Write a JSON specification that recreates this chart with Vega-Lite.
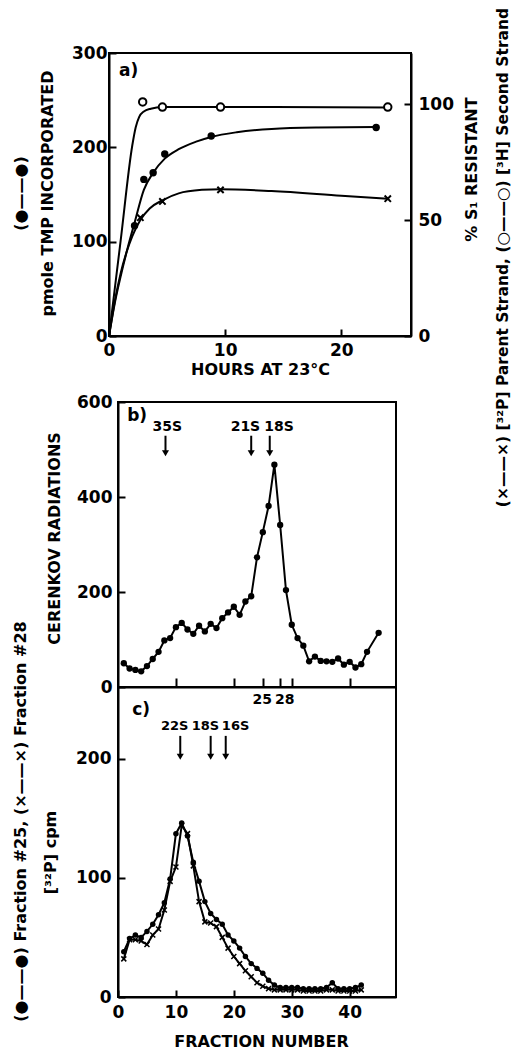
{
  "$schema": "https://vega.github.io/schema/vega-lite/v6.json",
  "background": "white",
  "padding": {"left": 10, "top": 6, "right": 0, "bottom": 0},
  "config": {
    "font": "DejaVu Sans",
    "view": {"stroke": "black", "strokeWidth": 2},
    "axis": {"grid": false, "domainColor": "black", "domainWidth": 2, "tickColor": "black", "tickWidth": 2, "tickSize": -7,
      "labelColor": "black", "labelFont": "DejaVu Sans", "labelFontSize": 17, "labelFontWeight": "bold",
      "titleColor": "black", "titleFont": "DejaVu Sans", "titleFontSize": 16, "titleFontWeight": "bold",
      "labelOverlap": false, "labelFlush": false}
  },
  "datasets": {
    "a_tmp_curve": [{"h":0,"v":0},{"h":0.5,"v":35},{"h":1,"v":63},{"h":1.6,"v":93},{"h":2.2,"v":120},{"h":3,"v":155},{"h":3.8,"v":173},{"h":4.8,"v":188},{"h":6,"v":198},{"h":7.5,"v":206},{"h":8.8,"v":211},{"h":11,"v":216},{"h":14,"v":219.5},{"h":18,"v":221},{"h":23,"v":221.5}],
    "a_tmp_pts": [{"h":2.2,"v":117},{"h":3.0,"v":166},{"h":3.8,"v":173},{"h":4.8,"v":193},{"h":8.8,"v":212},{"h":23,"v":221}],
    "a_open_curve": [{"h":0,"v":0},{"h":1,"v":41},{"h":2,"v":82},{"h":2.3,"v":90},{"h":2.6,"v":94.5},{"h":3,"v":96.8},{"h":3.6,"v":98},{"h":4.6,"v":98.7},{"h":9.6,"v":98.7},{"h":24,"v":98.5}],
    "a_open_pts": [{"h":2.9,"v":100.9},{"h":4.6,"v":98.7},{"h":9.6,"v":98.7},{"h":24,"v":98.7}],
    "a_x_curve": [{"h":0,"v":0},{"h":0.5,"v":15},{"h":1,"v":27},{"h":1.5,"v":36},{"h":2,"v":43},{"h":2.7,"v":50},{"h":3.5,"v":55},{"h":4.6,"v":58.5},{"h":6,"v":61.5},{"h":8,"v":63},{"h":9.6,"v":63.3},{"h":14,"v":62.5},{"h":20,"v":60.5},{"h":24,"v":59.2}],
    "a_x_pts": [{"h":2.7,"v":51},{"h":4.6,"v":58},{"h":9.6,"v":63},{"h":24,"v":59.2}],
    "b": [{"f":1,"v":50},{"f":2,"v":39},{"f":3,"v":36},{"f":4,"v":33},{"f":5,"v":44},{"f":6,"v":59},{"f":7,"v":74},{"f":8,"v":98},{"f":9,"v":103},{"f":10,"v":126},{"f":11,"v":135},{"f":12,"v":121},{"f":13,"v":112},{"f":14,"v":129},{"f":15,"v":117},{"f":16,"v":133},{"f":17,"v":124},{"f":18,"v":145},{"f":19,"v":157},{"f":20,"v":169},{"f":21,"v":152},{"f":22,"v":180},{"f":23,"v":191},{"f":24,"v":273},{"f":25,"v":326},{"f":26,"v":381},{"f":27,"v":468},{"f":28,"v":341},{"f":29,"v":204},{"f":30,"v":131},{"f":31,"v":103},{"f":32,"v":87},{"f":33,"v":54},{"f":34,"v":64},{"f":35,"v":55},{"f":36,"v":54},{"f":37,"v":53},{"f":38,"v":60},{"f":39,"v":47},{"f":40,"v":53},{"f":41,"v":41},{"f":42,"v":48},{"f":43,"v":74},{"f":45,"v":114}],
    "b_ann": [{"lab":"35S","tx":8.5,"ax":8.2},{"lab":"21S","tx":22.0,"ax":23.0},{"lab":"18S","tx":27.8,"ax":26.2}],
    "c": [{"f":1,"v":38},{"f":2,"v":49},{"f":3,"v":52},{"f":4,"v":50},{"f":5,"v":55},{"f":6,"v":61},{"f":7,"v":69},{"f":8,"v":79},{"f":9,"v":99},{"f":10,"v":137},{"f":11,"v":146},{"f":12,"v":135},{"f":13,"v":113},{"f":14,"v":97},{"f":15,"v":80},{"f":16,"v":70},{"f":17,"v":65},{"f":18,"v":61},{"f":19,"v":52},{"f":20,"v":47},{"f":21,"v":41},{"f":22,"v":34},{"f":23,"v":28},{"f":24,"v":24},{"f":25,"v":20},{"f":26,"v":14},{"f":27,"v":10},{"f":28,"v":8},{"f":29,"v":8},{"f":30,"v":8},{"f":31,"v":8},{"f":32,"v":7},{"f":33,"v":7},{"f":34,"v":7},{"f":35,"v":7},{"f":36,"v":8},{"f":37,"v":12},{"f":38,"v":7},{"f":39,"v":7},{"f":40,"v":7},{"f":41,"v":8},{"f":42,"v":10}],
    "c_x": [{"f":1,"v":32},{"f":2,"v":48},{"f":3,"v":48},{"f":4,"v":47},{"f":5,"v":44},{"f":6,"v":52},{"f":7,"v":57},{"f":8,"v":73},{"f":9,"v":97},{"f":10,"v":109},{"f":11,"v":144},{"f":12,"v":137},{"f":13,"v":110},{"f":14,"v":80},{"f":15,"v":63},{"f":16,"v":62},{"f":17,"v":59},{"f":18,"v":50},{"f":19,"v":41},{"f":20,"v":34},{"f":21,"v":28},{"f":22,"v":22},{"f":23,"v":17},{"f":24,"v":12},{"f":25,"v":9},{"f":26,"v":7},{"f":27,"v":6},{"f":28,"v":6},{"f":29,"v":6},{"f":30,"v":6},{"f":31,"v":6},{"f":32,"v":5},{"f":33,"v":5},{"f":34,"v":5},{"f":35,"v":5},{"f":36,"v":6},{"f":37,"v":6},{"f":38,"v":5},{"f":39,"v":5},{"f":40,"v":5},{"f":41,"v":5},{"f":42,"v":6}],
    "c_ann": [{"lab":"22S","tx":9.8,"ax":10.75},{"lab":"18S","tx":15.1,"ax":16.0},{"lab":"16S","tx":20.3,"ax":18.6}]
  },
  "spacing": 66,
  "bounds": "flush",
  "vconcat": [
    {
      "width": 302,
      "height": 283,
      "resolve": {"scale": {"y": "independent"}},
      "layer": [
        {
          "layer": [
            {
              "data": {"name": "a_tmp_curve"},
              "mark": {"type": "line", "interpolate": "monotone", "color": "black", "strokeWidth": 2},
              "encoding": {
                "x": {"field": "h", "type": "quantitative", "scale": {"domain": [0, 26], "nice": false},
                  "axis": {"values": [0, 10, 20], "title": "HOURS AT 23°C", "labelPadding": 13, "titleX": 151, "titleY": 33, "titleAlign": "center", "titleBaseline": "middle"}},
                "y": {"field": "v", "type": "quantitative", "scale": {"domain": [0, 300], "nice": false},
                  "axis": {"values": [0, 100, 200, 300], "labelPadding": 9, "title": ["(●——●)", "pmole TMP INCORPORATED"], "titleAngle": -90, "titleX": -89, "titleY": 140, "titleAlign": "center", "titleBaseline": "middle", "titleLineHeight": 27}}
              }
            },
            {
              "data": {"name": "a_tmp_pts"},
              "mark": {"type": "point", "filled": true, "color": "black", "size": 55, "opacity": 1},
              "encoding": {"x": {"field": "h", "type": "quantitative"}, "y": {"field": "v", "type": "quantitative"}}
            },
            {
              "data": {"values": [{"h": 1.7, "v": 281, "t": "a)"}]},
              "mark": {"type": "text", "fontSize": 17, "fontWeight": "bold", "color": "black", "baseline": "middle"},
              "encoding": {"x": {"field": "h", "type": "quantitative"}, "y": {"field": "v", "type": "quantitative"}, "text": {"field": "t"}}
            }
          ]
        },
        {
          "layer": [
            {
              "data": {"name": "a_open_curve"},
              "mark": {"type": "line", "interpolate": "monotone", "color": "black", "strokeWidth": 2},
              "encoding": {
                "x": {"field": "h", "type": "quantitative"},
                "y": {"field": "v", "type": "quantitative", "scale": {"domain": [0, 122], "nice": false},
                  "axis": {"orient": "right", "values": [0, 50, 100], "labelPadding": 14, "title": "% S₁ RESISTANT", "titleAngle": -90, "titleX": 60, "titleY": 116, "titleAlign": "center", "titleBaseline": "middle"}}
              }
            },
            {
              "data": {"name": "a_x_curve"},
              "mark": {"type": "line", "interpolate": "monotone", "color": "black", "strokeWidth": 2},
              "encoding": {"x": {"field": "h", "type": "quantitative"}, "y": {"field": "v", "type": "quantitative"}}
            },
            {
              "data": {"name": "a_open_pts"},
              "mark": {"type": "point", "shape": "circle", "fill": "white", "stroke": "black", "strokeWidth": 2, "size": 55, "opacity": 1},
              "encoding": {"x": {"field": "h", "type": "quantitative"}, "y": {"field": "v", "type": "quantitative"}}
            },
            {
              "data": {"name": "a_x_pts"},
              "mark": {"type": "point", "shape": "M-1,-1L1,1M-1,1L1,-1", "filled": false, "stroke": "black", "strokeWidth": 2, "size": 40, "opacity": 1},
              "encoding": {"x": {"field": "h", "type": "quantitative"}, "y": {"field": "v", "type": "quantitative"}}
            }
          ]
        },
        {
          "layer": [
            {
              "data": {"name": "a_open_pts"},
              "mark": {"type": "point", "opacity": 0},
              "encoding": {
                "x": {"field": "h", "type": "quantitative"},
                "y": {"field": "v", "type": "quantitative", "scale": {"domain": [0, 122], "nice": false},
                  "axis": {"orient": "right", "domain": false, "ticks": false, "labels": false, "title": "(×——×) [³²P] Parent Strand, (○——○) [³H] Second Strand", "titleFontSize": 15.5, "titleAngle": -90, "titleX": 91, "titleY": 204, "titleAlign": "center", "titleBaseline": "middle"}}
              }
            }
          ]
        }
      ]
    },
    {
      "bounds": "flush",
      "spacing": 0,
      "hconcat": [
        {
          "width": 9,
          "height": 10,
          "view": {"stroke": null},
          "data": {"values": [{}]},
          "mark": {"type": "point", "opacity": 0}
        },
        {
          "bounds": "flush",
          "spacing": 0,
          "vconcat": [
            {
              "width": 278,
              "height": 285,
              "layer": [
                {
                  "data": {"name": "b"},
                  "mark": {"type": "line", "color": "black", "strokeWidth": 2},
                  "encoding": {
                    "x": {"field": "f", "type": "quantitative", "scale": {"domain": [0, 48], "nice": false},
                      "axis": {"values": [10, 20, 25, 28, 30, 40], "tickSize": -9, "labelExpr": "datum.value == 25 || datum.value == 28 ? datum.label : ''", "title": null, "labelPadding": 14, "labelFontSize": 14,
                        "labelOffset": {"condition": {"test": "datum.value == 28", "value": 4}, "value": -1}}},
                    "y": {"field": "v", "type": "quantitative", "scale": {"domain": [0, 600], "nice": false},
                      "axis": {"values": [0, 200, 400, 600], "labelPadding": 13, "title": "CERENKOV RADIATIONS", "titleAngle": -90, "titleX": -64, "titleY": 136, "titleAlign": "center", "titleBaseline": "middle"}}
                  }
                },
                {
                  "data": {"name": "b"},
                  "mark": {"type": "point", "filled": true, "color": "black", "size": 40, "opacity": 1},
                  "encoding": {"x": {"field": "f", "type": "quantitative"}, "y": {"field": "v", "type": "quantitative"}}
                },
                {
                  "data": {"name": "b_ann"},
                  "mark": {"type": "text", "fontSize": 14, "fontWeight": "bold", "color": "black", "baseline": "middle"},
                  "encoding": {"x": {"field": "tx", "type": "quantitative"}, "y": {"datum": 547}, "text": {"field": "lab"}}
                },
                {
                  "data": {"name": "b_ann"},
                  "mark": {"type": "rule", "color": "black", "strokeWidth": 2},
                  "encoding": {"x": {"field": "ax", "type": "quantitative"}, "y": {"datum": 529}, "y2": {"datum": 494}}
                },
                {
                  "data": {"name": "b_ann"},
                  "mark": {"type": "point", "shape": "triangle-down", "filled": true, "color": "black", "size": 50, "opacity": 1},
                  "encoding": {"x": {"field": "ax", "type": "quantitative"}, "y": {"datum": 492}}
                },
                {
                  "data": {"values": [{"f": 3.3, "v": 570, "t": "b)"}]},
                  "mark": {"type": "text", "fontSize": 17, "fontWeight": "bold", "color": "black", "baseline": "middle"},
                  "encoding": {"x": {"field": "f", "type": "quantitative"}, "y": {"field": "v", "type": "quantitative"}, "text": {"field": "t"}}
                }
              ]
            },
            {
              "width": 278,
              "height": 310,
              "resolve": {"scale": {"y": "independent"}},
              "layer": [
                {
                  "layer": [
                    {
                      "data": {"name": "c_x"},
                      "mark": {"type": "line", "color": "black", "strokeWidth": 2},
                      "encoding": {
                        "x": {"field": "f", "type": "quantitative", "scale": {"domain": [0, 48], "nice": false},
                          "axis": {"values": [0, 10, 20, 30, 40], "labelPadding": 14, "title": "FRACTION NUMBER", "titleX": 143, "titleY": 44, "titleAlign": "center", "titleBaseline": "middle"}},
                        "y": {"field": "v", "type": "quantitative", "scale": {"domain": [0, 260], "nice": false},
                          "axis": {"values": [0, 100, 200], "labelPadding": 14, "title": "(●——●) Fraction #25, (×——×) Fraction #28", "titleAngle": -90, "titleX": -98, "titleY": 134, "titleAlign": "center", "titleBaseline": "middle"}}
                      }
                    },
                    {
                      "data": {"name": "c_x"},
                      "mark": {"type": "point", "shape": "M-1,-1L1,1M-1,1L1,-1", "filled": false, "stroke": "black", "strokeWidth": 1.5, "size": 25, "opacity": 1},
                      "encoding": {"x": {"field": "f", "type": "quantitative"}, "y": {"field": "v", "type": "quantitative"}}
                    },
                    {
                      "data": {"name": "c"},
                      "mark": {"type": "line", "color": "black", "strokeWidth": 2},
                      "encoding": {"x": {"field": "f", "type": "quantitative"}, "y": {"field": "v", "type": "quantitative"}}
                    },
                    {
                      "data": {"name": "c"},
                      "mark": {"type": "point", "filled": true, "color": "black", "size": 30, "opacity": 1},
                      "encoding": {"x": {"field": "f", "type": "quantitative"}, "y": {"field": "v", "type": "quantitative"}}
                    },
                    {
                      "data": {"name": "c_ann"},
                      "mark": {"type": "text", "fontSize": 13, "fontWeight": "bold", "color": "black", "baseline": "middle"},
                      "encoding": {"x": {"field": "tx", "type": "quantitative"}, "y": {"datum": 227}, "text": {"field": "lab"}}
                    },
                    {
                      "data": {"name": "c_ann"},
                      "mark": {"type": "rule", "color": "black", "strokeWidth": 2},
                      "encoding": {"x": {"field": "ax", "type": "quantitative"}, "y": {"datum": 219}, "y2": {"datum": 203}}
                    },
                    {
                      "data": {"name": "c_ann"},
                      "mark": {"type": "point", "shape": "triangle-down", "filled": true, "color": "black", "size": 50, "opacity": 1},
                      "encoding": {"x": {"field": "ax", "type": "quantitative"}, "y": {"datum": 201.5}}
                    },
                    {
                      "data": {"values": [{"f": 4.0, "v": 241, "t": "c)"}]},
                      "mark": {"type": "text", "fontSize": 17, "fontWeight": "bold", "color": "black", "baseline": "middle"},
                      "encoding": {"x": {"field": "f", "type": "quantitative"}, "y": {"field": "v", "type": "quantitative"}, "text": {"field": "t"}}
                    }
                  ]
                },
                {
                  "layer": [
                    {
                      "data": {"name": "c"},
                      "mark": {"type": "point", "opacity": 0},
                      "encoding": {
                        "x": {"field": "f", "type": "quantitative"},
                        "y": {"field": "v", "type": "quantitative", "scale": {"domain": [0, 260], "nice": false},
                          "axis": {"orient": "left", "domain": false, "ticks": false, "labels": false, "title": "[³²P] cpm", "titleAngle": -90, "titleX": -68, "titleY": 165, "titleAlign": "center", "titleBaseline": "middle"}}
                      }
                    }
                  ]
                }
              ]
            }
          ]
        }
      ]
    }
  ]
}
